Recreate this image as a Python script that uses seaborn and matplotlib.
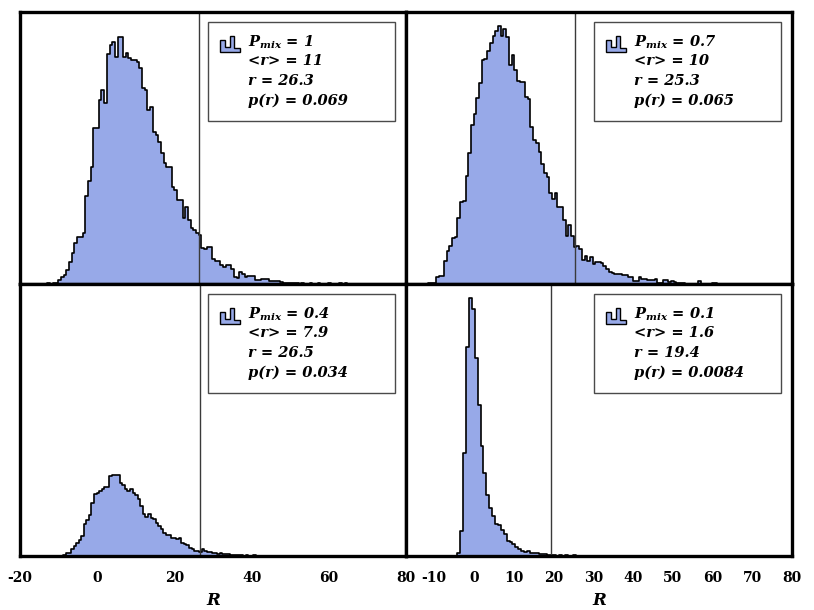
import numpy as np
import pandas as pd
import matplotlib
matplotlib.use("Agg")
import matplotlib.pyplot as plt
import seaborn as sns
from matplotlib.patches import Rectangle, Polygon

# ── bin counts ──────────────────────────────────────────────
tl_counts = [0, 1, 0, 1, 1, 4, 7, 9, 14, 22, 31, 41, 47, 47, 51, 88, 103, 117,
             156, 156, 184, 194, 181, 230, 239, 242, 227, 247, 247, 227, 231,
             226, 224, 224, 222, 216, 196, 194, 174, 177, 152, 149, 142, 131,
             121, 117, 117, 97, 94, 84, 84, 66, 77, 64, 56, 54, 51, 49, 36, 35,
             37, 37, 25, 23, 23, 19, 17, 19, 19, 15, 7, 6, 12, 10, 7, 8, 8, 8,
             4, 4, 5, 5, 5, 3, 3, 3, 3, 2, 1, 1, 1, 1, 1, 1, 0, 1, 0, 0, 1, 0,
             0, 1, 0, 0, 0, 1, 0, 0, 0, 1, 0, 1]
tr_counts = [0, 1, 1, 1, 7, 8, 8, 23, 33, 38, 46, 47, 66, 82, 83, 108, 131, 159,
             170, 186, 201, 224, 225, 233, 241, 248, 253, 258, 248, 255, 247,
             219, 229, 214, 203, 202, 202, 187, 185, 157, 144, 141, 132, 120,
             111, 107, 91, 85, 91, 77, 77, 64, 48, 59, 48, 37, 38, 35, 24, 28,
             23, 27, 20, 22, 22, 21, 18, 15, 12, 11, 10, 10, 10, 9, 9, 7, 7, 3,
             3, 7, 5, 5, 4, 4, 4, 5, 1, 1, 4, 4, 2, 3, 2, 1, 1, 1, 0, 0, 0, 0,
             0, 3, 0, 0, 0, 0, 1, 1]
bl_counts = [1, 3, 3, 7, 10, 13, 16, 20, 32, 36, 41, 53, 62, 63, 65, 67, 69, 69,
             80, 81, 81, 81, 73, 71, 67, 65, 67, 63, 61, 57, 50, 42, 39, 42, 38,
             37, 33, 30, 27, 23, 21, 21, 18, 18, 17, 18, 13, 12, 11, 8, 7, 5, 5,
             4, 7, 5, 4, 4, 3, 3, 2, 3, 2, 2, 2, 1, 1, 1, 1, 1, 0, 1, 0, 0, 1]
br_counts = [3, 25, 103, 209, 258, 247, 198, 151, 110, 83, 61, 48, 40, 32, 31,
             26, 22, 15, 14, 12, 9, 7, 5, 4, 5, 3, 3, 3, 2, 2, 2, 1, 1, 1, 0, 1,
             0, 1, 0, 0, 1]

# legend values
p_mix  = ["1", "0.7", "0.4", "0.1"]
mean_r = ["11", "10", "7.9", "1.6"]
r_obs  = [26.3, 25.3, 26.5, 19.4]
p_r    = ["0.069", "0.065", "0.034", "0.0084"]

# ── binning (first edge, width) per panel ───────────────────
bin_setup = [(-13.6, 0.70), (-12.32, 0.68), (-8.8, 0.665), (-4.2, 0.73)]

FILL = "#97a9e8"

sns.set_style("white")
plt.rcParams["font.family"] = ["DejaVu Serif"]
plt.rcParams["mathtext.fontset"] = "custom"
plt.rcParams["mathtext.it"] = "DejaVu Serif:italic:bold"
plt.rcParams["mathtext.rm"] = "DejaVu Serif:bold"
plt.rcParams["axes.unicode_minus"] = False
plt.rcParams["text.color"] = "black"
plt.rcParams["xtick.color"] = "black"
plt.rcParams["axes.labelcolor"] = "black"

fig, axes = plt.subplots(2, 2, figsize=(8.14, 6.10), dpi=100,
                         sharex="col", sharey=True)
fig.subplots_adjust(left=0.0246, right=0.973, top=0.980, bottom=0.0885,
                    wspace=0, hspace=0)

all_counts = [tl_counts, tr_counts, bl_counts, br_counts]

for i, ax in enumerate(axes.flat):
    start, width = bin_setup[i]
    n = len(all_counts[i])
    centers = start + width * (np.arange(n) + 0.5)
    df = pd.DataFrame({"R": centers,
                       "count": np.array(all_counts[i], dtype=float)})

    sns.histplot(data=df, x="R", weights="count", binwidth=width,
                 binrange=(start, start + n * width), element="step",
                 fill=True, color=FILL, edgecolor="black", linewidth=1.2,
                 alpha=1, ax=ax)
    ax.axvline(r_obs[i], color="#3a3a3a", lw=1)

    ax.set_ylim(0, 272)
    ax.set_yticks([])
    ax.set_ylabel("")
    for sp in ax.spines.values():
        sp.set_linewidth(2.4)
        sp.set_color("black")

    # ── legend box ──
    ax.add_patch(Rectangle((0.487, 0.60), 0.485, 0.363, transform=ax.transAxes,
                           facecolor="white", edgecolor="#4a4a4a", lw=1.0,
                           zorder=5))
    ix = np.array([0.0, 0.0, 0.25, 0.25, 0.5, 0.5, 0.7, 0.7, 1.0, 1.0])
    iy = np.array([0.0, 0.75, 0.75, 0.35, 0.35, 1.0, 1.0, 0.25, 0.25, 0.0])
    ax.add_patch(Polygon(np.column_stack([0.518 + 0.052 * ix, 0.853 + 0.058 * iy]),
                         closed=True, transform=ax.transAxes, facecolor=FILL,
                         edgecolor="black", lw=1.0, zorder=6))
    lines = [r"$P_{mix}$ = " + p_mix[i],
             "<r> = " + mean_r[i],
             f"r = {r_obs[i]}",
             "p(r) = " + p_r[i]]
    for txt, yy in zip(lines, [0.89, 0.82, 0.746, 0.673]):
        ax.text(0.59, yy, txt, transform=ax.transAxes, ha="left", va="center",
                fontsize=10.5, fontstyle="italic", fontweight="bold", zorder=7)

# x axes
for ax in axes[:, 0]:
    ax.set_xlim(-20, 80)
    ax.set_xticks([-20, 0, 20, 40, 60, 80])
for ax in axes[:, 1]:
    ax.set_xlim(-17.1, 80)
    ax.set_xticks([-10, 0, 10, 20, 30, 40, 50, 60, 70, 80])

for ax in axes[0, :]:
    ax.tick_params(axis="x", length=0, labelbottom=False)
    ax.set_xlabel("")
for ax in axes[1, :]:
    ax.tick_params(axis="x", direction="in", length=5, width=2,
                   labelsize=10, pad=11, colors="black")
    for lab in ax.get_xticklabels():
        lab.set_fontweight("bold")
    ax.set_xlabel("R", fontsize=12, fontstyle="italic", fontweight="bold",
                  labelpad=5)

plt.savefig("out.png", dpi=100)
